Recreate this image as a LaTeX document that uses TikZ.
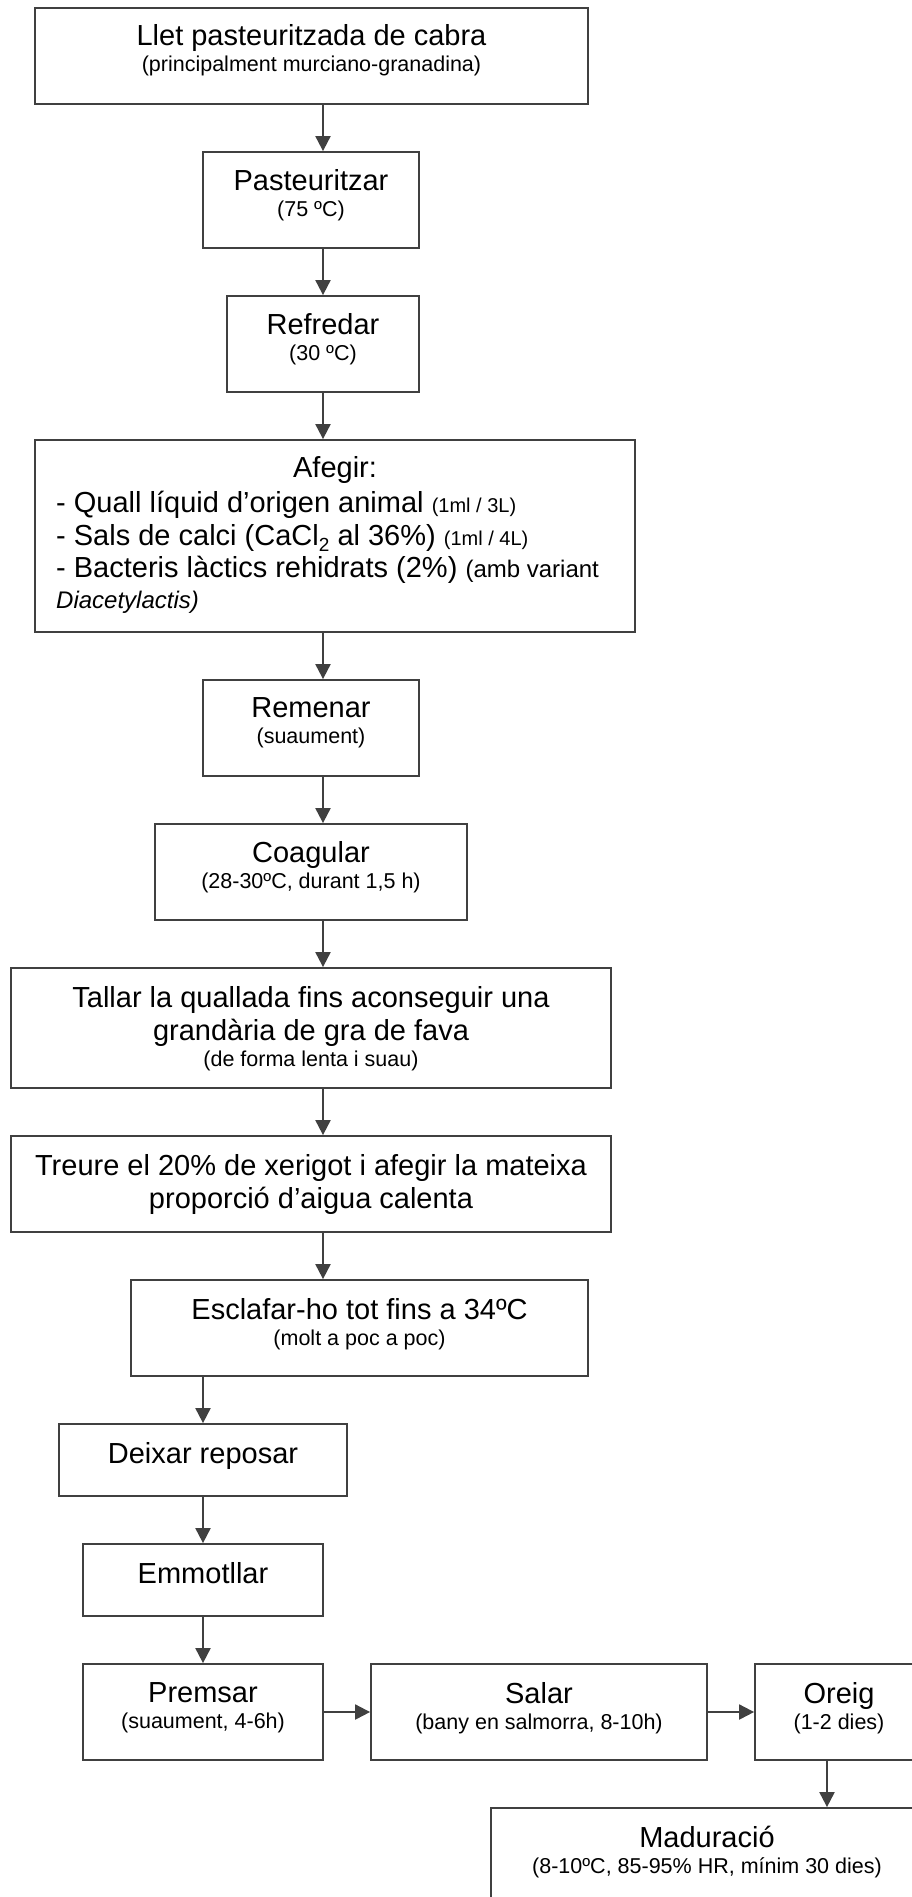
\documentclass[tikz,border=0pt]{standalone}
\usepackage{fontspec}
\setmainfont{Liberation Sans}
\usetikzlibrary{arrows.meta}
\definecolor{lc}{HTML}{404040}
\newcommand\fm{\fontsize{29}{33}\selectfont}
\newcommand\fs{\fontsize{21.5}{25}\selectfont}
\newcommand\fsm{\fontsize{20}{24}\selectfont}
\newcommand\fmid{\fontsize{24}{28}\selectfont}
\newcommand\subtwo{\raisebox{-0.22em}{\fontsize{19}{19}\selectfont 2}}
\begin{document}
\begin{tikzpicture}[x=1pt,y=-1pt,
  box/.style={draw=lc, line width=1.8pt, rectangle, inner sep=0pt, fill=white},
  txt/.style={font=\fm, align=center, inner sep=0pt, anchor=north, text=black},
  ltxt/.style={font=\fm, inner sep=0pt, text=black},
  arr/.style={draw=lc, line width=2pt, -{Triangle[length=15pt,width=15pt]}}]
\useasboundingbox (0,0) rectangle (912,1897);
\clip (0,0) rectangle (912,1897);
\fill[white] (0,0) rectangle (912,1897);
% column coordinates
\coordinate (cA) at (323,0);
\coordinate (cB) at (203,0);
\coordinate (cC) at (827,0);
% boxes
\node[box, minimum width=553pt, minimum height=96pt] (b1) at (311.5,56) {};
\node[box, minimum width=216pt, minimum height=96pt] (b2) at (311,200) {};
\node[box, minimum width=192pt, minimum height=96pt] (b3) at (323,344) {};
\node[box, minimum width=600pt, minimum height=192pt] (b4) at (335,536) {};
\node[box, minimum width=216pt, minimum height=96pt] (b5) at (311,728) {};
\node[box, minimum width=312pt, minimum height=96pt] (b6) at (311,872) {};
\node[box, minimum width=600pt, minimum height=120pt] (b7) at (311,1028) {};
\node[box, minimum width=600pt, minimum height=96pt] (b8) at (311,1184) {};
\node[box, minimum width=457pt, minimum height=96pt] (b9) at (359.5,1328) {};
\node[box, minimum width=288pt, minimum height=72pt] (b10) at (203,1460) {};
\node[box, minimum width=240pt, minimum height=72pt] (b11) at (203,1580) {};
\node[box, minimum width=240pt, minimum height=96pt] (b12) at (203,1712) {};
\node[box, minimum width=336pt, minimum height=96pt] (b13) at (539,1712) {};
\node[box, minimum width=168pt, minimum height=96pt] (b14) at (839,1712) {};
\node[box, minimum width=432pt, minimum height=96pt] (b15) at (707,1856) {};
% texts
\node[txt, yshift=-17pt] (t1) at (b1.north) {Llet pasteuritzada de cabra\\[-7pt]{\fs (principalment murciano-granadina)}};
\node[txt, yshift=-18pt] (t2) at (b2.north) {Pasteuritzar\\[-7pt]{\fs (75 ºC)}};
\node[txt, yshift=-18pt] (t3) at (b3.north) {Refredar\\[-7pt]{\fs (30 ºC)}};
\node[ltxt, anchor=base] (t4a) at (335,477) {Afegir:};
\node[ltxt, anchor=base west] (t4b) at (56,512) {- Quall líquid d’origen animal {\fsm (1ml / 3L)}};
\node[ltxt, anchor=base west] (t4c) at (56,545) {- Sals de calci (CaCl\subtwo{} al 36\%) {\fsm (1ml / 4L)}};
\node[ltxt, anchor=base west] (t4d) at (56,577) {- Bacteris làctics rehidrats (2\%) {\fmid (amb variant}};
\node[ltxt, anchor=base west] (t4e) at (56,608) {\fmid\itshape Diacetylactis)};
\node[txt, yshift=-18pt] (t5) at (b5.north) {Remenar\\[-7pt]{\fs (suaument)}};
\node[txt, yshift=-18pt] (t6) at (b6.north) {Coagular\\[-7pt]{\fs (28-30ºC, durant 1,5 h)}};
\node[txt, yshift=-19pt] (t7) at (b7.north) {Tallar la quallada fins aconseguir una\\grandària de gra de fava\\[-7pt]{\fs (de forma lenta i suau)}};
\node[txt, yshift=-19pt] (t8) at (b8.north) {Treure el 20\% de xerigot i afegir la mateixa\\proporció d’aigua calenta};
\node[txt, yshift=-19pt] (t9) at (b9.north) {Esclafar-ho tot fins a 34ºC\\[-7pt]{\fs (molt a poc a poc)}};
\node[txt, yshift=-19pt] (t10) at (b10.north) {Deixar reposar};
\node[txt, yshift=-19pt] (t11) at (b11.north) {Emmotllar};
\node[txt, yshift=-19pt] (t12) at (b12.north) {Premsar\\[-7pt]{\fs (suaument, 4-6h)}};
\node[txt, yshift=-19pt] (t13) at (b13.north) {Salar\\[-7pt]{\fs (bany en salmorra, 8-10h)}};
\node[txt, yshift=-19pt] (t14) at (b14.north) {Oreig\\[-7pt]{\fs (1-2 dies)}};
\node[txt, yshift=-19pt] (t15) at (b15.north) {Maduració\\[-7pt]{\fs (8-10ºC, 85-95\% HR, mínim 30 dies)}};
% connectors
\draw[arr] (b1.south -| cA) -- (b2.north -| cA);
\draw[arr] (b2.south -| cA) -- (b3.north -| cA);
\draw[arr] (b3.south -| cA) -- (b4.north -| cA);
\draw[arr] (b4.south -| cA) -- (b5.north -| cA);
\draw[arr] (b5.south -| cA) -- (b6.north -| cA);
\draw[arr] (b6.south -| cA) -- (b7.north -| cA);
\draw[arr] (b7.south -| cA) -- (b8.north -| cA);
\draw[arr] (b8.south -| cA) -- (b9.north -| cA);
\draw[arr] (b9.south -| cB) -- (b10.north -| cB);
\draw[arr] (b10.south -| cB) -- (b11.north -| cB);
\draw[arr] (b11.south -| cB) -- (b12.north -| cB);
\draw[arr] (b12.east) -- (b13.west);
\draw[arr] (b13.east) -- (b14.west);
\draw[arr] (b14.south -| cC) -- (b15.north -| cC);
\end{tikzpicture}
\end{document}
